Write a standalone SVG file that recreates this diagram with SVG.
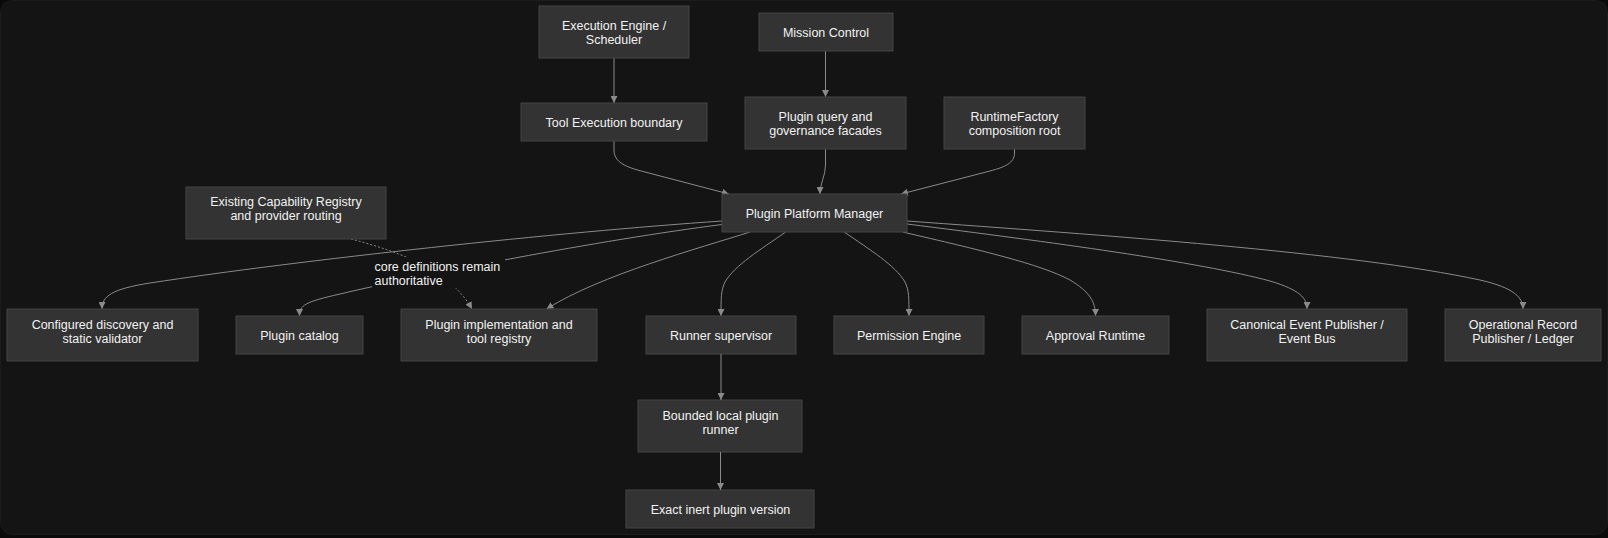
<svg xmlns="http://www.w3.org/2000/svg" width="1608" height="538" viewBox="0 0 1608 538">
<defs>
<style>
.node rect{fill:#333333;stroke:#454545;stroke-width:1}
.node text,.lbl text{font-family:"Liberation Sans",Arial,sans-serif;font-size:12.5px;fill:#f2f2f2}
.node text{text-anchor:middle}
.edge{fill:none;stroke:#8a8a8a;stroke-width:1}
.dot{stroke-dasharray:2 2}
</style>
<marker id="arr" viewBox="0 0 10 10" refX="10" refY="5" markerUnits="userSpaceOnUse" markerWidth="7" markerHeight="7" orient="auto">
<path d="M0,0 L10,5 L0,10 z" fill="#8a8a8a"/>
</marker>
</defs>
<rect x="0" y="0" width="1608" height="538" fill="#0a0a0a"/>
<rect x="0.5" y="0.5" width="1607" height="534" rx="12" fill="#141414" stroke="#1c1c1c"/>

<g id="connectors">
<path class="edge" d="M614,58 V103" marker-end="url(#arr)"/>
<path class="edge" d="M825.5,51 V97" marker-end="url(#arr)"/>
<path class="edge" d="M614,141 V150 C614,162 625,167 645,172 L729,194" marker-end="url(#arr)"/>
<path class="edge" d="M825.5,148 V165 C825.5,176 820,183 820,194" marker-end="url(#arr)"/>
<path class="edge" d="M1014.5,148 V153 C1014.5,163 1005,167 990,171 L901,194" marker-end="url(#arr)"/>
<path class="edge dot" d="M351,239 C400,252 450,270 472,309" marker-end="url(#arr)"/>
<path class="edge" d="M722,221 C560,232 300,260 150,283 C112,289 102,296 102,309" marker-end="url(#arr)"/>
<path class="edge" d="M722,224.5 C600,240 420,275 340,294 C305,302 299.5,305 299.5,316" marker-end="url(#arr)"/>
<path class="edge" d="M750,232 C700,248 600,275 546.5,309" marker-end="url(#arr)"/>
<path class="edge" d="M785.7,232 C760,250 735,265 725,282 C721,290 721,298 721,316" marker-end="url(#arr)"/>
<path class="edge" d="M844.3,232 C870,250 895,265 905,282 C909,290 909,298 909,316" marker-end="url(#arr)"/>
<path class="edge" d="M902.7,232 C980,250 1040,264 1070,280 C1090,292 1095.5,302 1095.5,316" marker-end="url(#arr)"/>
<path class="edge" d="M907,224 C1050,242 1200,262 1270,281 C1300,290 1307,298 1307,309" marker-end="url(#arr)"/>
<path class="edge" d="M907,221 C1100,235 1350,252 1480,280 C1515,288 1523,298 1523,309" marker-end="url(#arr)"/>
<g class="lbl">
<rect x="372" y="257" width="133" height="31" fill="#141414"/>
<text x="374.5" y="271.2">core definitions remain</text>
<text x="374.5" y="284.5">authoritative</text>
</g>
</g>

<g id="exec-engine" class="node"><rect x="539" y="6" width="150" height="52"/><text x="614" y="29.5">Execution Engine /</text><text x="614" y="43.5">Scheduler</text></g>
<g id="mission-control" class="node"><rect x="759" y="13" width="134" height="38"/><text x="826" y="36.5">Mission Control</text></g>
<g id="tool-exec" class="node"><rect x="521" y="103" width="186" height="38"/><text x="614" y="126.5">Tool Execution boundary</text></g>
<g id="plugin-query" class="node"><rect x="745" y="97" width="161" height="52"/><text x="825.5" y="120.5">Plugin query and</text><text x="825.5" y="134.5">governance facades</text></g>
<g id="runtime-factory" class="node"><rect x="944" y="97" width="141" height="52"/><text x="1014.5" y="120.5">RuntimeFactory</text><text x="1014.5" y="134.5">composition root</text></g>
<g id="ppm" class="node"><rect x="722" y="194" width="185" height="38"/><text x="814.5" y="217.5">Plugin Platform Manager</text></g>
<g id="cap-registry" class="node"><rect x="186" y="187" width="200" height="52"/><text x="286" y="206">Existing Capability Registry</text><text x="286" y="220">and provider routing</text></g>
<g id="discovery" class="node"><rect x="7" y="309" width="191" height="52"/><text x="102.5" y="328.5">Configured discovery and</text><text x="102.5" y="342.5">static validator</text></g>
<g id="catalog" class="node"><rect x="236" y="316" width="127" height="38"/><text x="299.5" y="339.5">Plugin catalog</text></g>
<g id="impl-registry" class="node"><rect x="401" y="309" width="196" height="52"/><text x="499" y="328.5">Plugin implementation and</text><text x="499" y="342.5">tool registry</text></g>
<g id="runner-supervisor" class="node"><rect x="646" y="316" width="150" height="38"/><text x="721" y="339.5">Runner supervisor</text></g>
<g id="permission" class="node"><rect x="834" y="316" width="150" height="38"/><text x="909" y="339.5">Permission Engine</text></g>
<g id="approval" class="node"><rect x="1022" y="316" width="147" height="38"/><text x="1095.5" y="339.5">Approval Runtime</text></g>
<g id="event-bus" class="node"><rect x="1207" y="309" width="200" height="52"/><text x="1307" y="328.5">Canonical Event Publisher /</text><text x="1307" y="342.5">Event Bus</text></g>
<g id="ledger" class="node"><rect x="1445" y="309" width="156" height="52"/><text x="1523" y="328.5">Operational Record</text><text x="1523" y="342.5">Publisher / Ledger</text></g>
<g id="local-runner" class="node"><rect x="638" y="400" width="164" height="52"/><text x="720.5" y="419.5">Bounded local plugin</text><text x="720.5" y="433.5">runner</text></g>
<g id="plugin-version" class="node"><rect x="626" y="490" width="188" height="38"/><text x="720.5" y="513.5">Exact inert plugin version</text></g>
<g id="connectors-lower">
<path class="edge" d="M721,354 V400" marker-end="url(#arr)"/>
<path class="edge" d="M720.5,452 V490" marker-end="url(#arr)"/>
</g>
</svg>
